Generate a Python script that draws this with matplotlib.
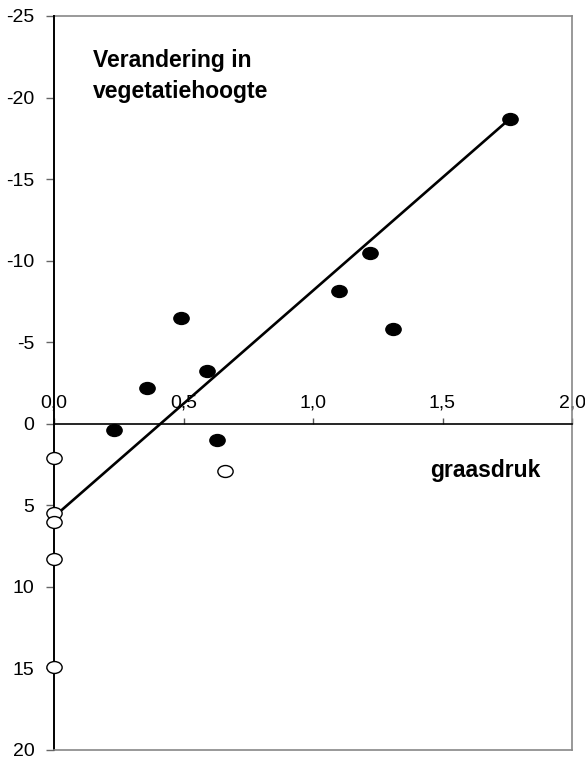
import matplotlib
matplotlib.use('Agg')
import matplotlib.pyplot as plt
import numpy as np
from matplotlib.path import Path

plt.rcParams['axes.unicode_minus'] = False
plt.rcParams['font.family'] = ['Liberation Sans', 'DejaVu Sans']

# grazing pressure vs change in vegetation height (negative = higher)
filled_x = [0.23, 0.36, 0.49, 0.59, 0.63, 1.10, 1.22, 1.31, 1.76]
filled_y = [0.4, -2.2, -6.5, -3.25, 1.0, -8.15, -10.5, -5.8, -18.7]
open_x = [0.0, 0.0, 0.0, 0.0, 0.0, 0.66]
open_y = [2.1, 5.45, 6.0, 8.3, 14.9, 2.9]
fit_x = [0.0, 1.76]
fit_y = [5.7, -18.7]

x_ticks = [0.0, 0.5, 1.0, 1.5, 2.0]
x_labels = ['0,0', '0,5', '1,0', '1,5', '2,0']
y_ticks = [-25, -20, -15, -10, -5, 0, 5, 10, 15, 20]

# flattened circle, like the Excel markers
circ = Path.unit_circle()
ell = Path(circ.vertices * np.array([1.0, 0.78]), circ.codes)

fig = plt.figure(figsize=(5.85, 7.6), dpi=100)
ax = fig.add_axes([54 / 585, 10 / 760, 518 / 585, 734 / 760])

ax.plot(fit_x, fit_y, color='black', lw=1.9, zorder=3)
ax.plot(filled_x, filled_y, ls='none', marker=ell, ms=11, color='black', zorder=4)
ax.plot(open_x, open_y, ls='none', marker=ell, ms=11, mfc='white', mec='black',
        mew=1.0, zorder=5, clip_on=False)

ax.set_xlim(0, 2.0)
ax.set_ylim(20, -25)

# x axis sits at y = 0 with labels above it
ax.spines['top'].set_position(('data', 0))
ax.spines['top'].set_color('black')
ax.spines['top'].set_linewidth(1.2)
ax.spines['left'].set_color('black')
ax.spines['left'].set_linewidth(1.4)
ax.spines['right'].set_color('#888888')
ax.spines['bottom'].set_color('#888888')
ax.spines['right'].set_linewidth(1.2)
ax.spines['bottom'].set_linewidth(1.2)
ax.axhline(y_ticks[0], color='#888888', lw=1.2, clip_on=False)

ax.xaxis.set_ticks_position('top')
ax.set_xticks(x_ticks)
ax.set_xticklabels(x_labels, fontsize=14)
ax.tick_params(axis='x', direction='out', length=4, width=1, pad=5, color='#555555')
ax.set_yticks(y_ticks)
ax.set_yticklabels([str(v) for v in y_ticks], fontsize=14)
ax.tick_params(axis='y', direction='out', length=6, width=1, pad=8, color='#666666')

fig.text(93 / 585, 1 - 67 / 760, 'Verandering in', fontsize=16.5, fontweight='bold',
         va='baseline')
fig.text(93 / 585, 1 - 98 / 760, 'vegetatiehoogte', fontsize=16.5, fontweight='bold',
         va='baseline')
fig.text(430 / 585, 1 - 477 / 760, 'graasdruk', fontsize=16.5, fontweight='bold',
         va='baseline')

fig.savefig('out.png', dpi=100)
